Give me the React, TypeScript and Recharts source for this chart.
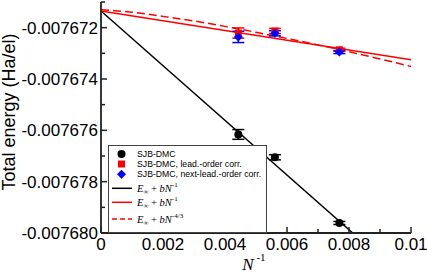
import { ComposedChart, Line, Scatter, XAxis, YAxis, ErrorBar, Legend } from 'recharts';

// N^-1 for the three system sizes
const INV_N = [0.00443, 0.00561, 0.00769];

const E_DMC = [-0.00767616, -0.00767705, -0.00767961];
const ERR_DMC = [0.00000019, 0.0000001, 0.00000006];
const E_LEAD = [-0.00767221, -0.00767213, -0.00767286];
const ERR_LEAD = [0.0000002, 0.0000001, 0.00000006];
const E_NEXT = [-0.00767236, -0.00767222, -0.00767295];
const ERR_NEXT = [0.00000022, 0.0000001, 0.00000006];

// fits
const FIT1_X = [0, 0.00812];
const FIT1_E = [-0.00767135, -0.0076800];
const FIT2_X = [0, 0.01];
const FIT2_E = [-0.00767135, -0.00767325];
const FIT3_X = [0, 0.001, 0.002, 0.003, 0.004, 0.005, 0.006, 0.007, 0.008, 0.009, 0.01];
const FIT3_E = [
  -0.0076713, -0.0076714, -0.00767156, -0.00767174, -0.00767195, -0.00767218,
  -0.00767242, -0.00767267, -0.00767294, -0.00767322, -0.00767351,
];

const X_TICKS = [0, 0.001, 0.002, 0.003, 0.004, 0.005, 0.006, 0.007, 0.008, 0.009, 0.01];
const X_LABELS = ['0', '', '0.002', '', '0.004', '', '0.006', '', '0.008', '', '0.01'];
const Y_TICKS = [
  -0.00768, -0.007679, -0.007678, -0.007677, -0.007676, -0.007675,
  -0.007674, -0.007673, -0.007672, -0.007671,
];
const Y_LABELS = [
  '-0.007680', '', '-0.007678', '', '-0.007676', '', '-0.007674', '', '-0.007672', '',
];

const AXIS = '#222';
const FONT = '"Liberation Sans", Arial, sans-serif';
const SERIF = '"Liberation Serif", "Times New Roman", serif';

const toPoints = (xs: number[], ys: number[], errs?: number[]) =>
  xs.map((x, i) => ({ x, y: ys[i], err: errs ? errs[i] : 0 }));

const findIdx = (ticks: number[], v: number) =>
  ticks.findIndex((t) => Math.abs(t - v) < 1e-10);

function makeTick(side: 'bottom' | 'top' | 'left' | 'right') {
  return (props: any) => {
    const { x, y, payload } = props;
    const isX = side === 'bottom' || side === 'top';
    const idx = findIdx(isX ? X_TICKS : Y_TICKS, payload.value);
    const label = idx >= 0 ? (isX ? X_LABELS[idx] : Y_LABELS[idx]) : '';
    const len = label !== '' ? 6 : 4;
    let line;
    if (side === 'bottom') line = <line x1={x} x2={x} y1={y} y2={y - len} stroke={AXIS} strokeWidth={1.5} />;
    else if (side === 'top') line = <line x1={x} x2={x} y1={y} y2={y + len} stroke={AXIS} strokeWidth={1.5} />;
    else if (side === 'left') line = <line x1={x} x2={x + len} y1={y} y2={y} stroke={AXIS} strokeWidth={1.5} />;
    else line = <line x1={x} x2={x - len} y1={y} y2={y} stroke={AXIS} strokeWidth={1.5} />;
    return (
      <g>
        {line}
        {side === 'bottom' && label !== '' && (
          <text x={x} y={y + 16.5} textAnchor="middle" fontSize={17} fontFamily={FONT} fill="#000">
            {label}
          </text>
        )}
        {side === 'left' && label !== '' && (
          <text x={x - 3} y={y + 6} textAnchor="end" fontSize={17} fontFamily={FONT} fill="#000">
            {label}
          </text>
        )}
      </g>
    );
  };
}

const Circle = (p: any) => <circle cx={p.cx} cy={p.cy} r={4} fill="#000" />;
const Square = (p: any) => <rect x={p.cx - 3.5} y={p.cy - 3.5} width={7} height={7} fill="#ff0000" />;
const Diamond = (p: any) => (
  <path d={`M${p.cx},${p.cy - 4.5}L${p.cx + 4.5},${p.cy}L${p.cx},${p.cy + 4.5}L${p.cx - 4.5},${p.cy}Z`} fill="#0000ff" />
);

function Formula({ y, power }: { y: number; power: string }) {
  return (
    <text x={28} y={y + 3.5} fontSize={10.5} fontFamily={SERIF} fill="#000">
      <tspan fontStyle="italic">E</tspan>
      <tspan fontSize={7} dy={2}>∞</tspan>
      <tspan dy={-2}> + </tspan>
      <tspan fontStyle="italic">bN</tspan>
      <tspan fontSize={7} dy={-5}>{power}</tspan>
    </text>
  );
}

function renderLegend() {
  const text = (y: number, s: string) => (
    <text x={28} y={y + 3} fontSize={8.7} fontFamily={FONT} fill="#000">{s}</text>
  );
  return (
    <div style={{ width: 159, height: 88, border: '1px solid #444', background: '#fff', boxSizing: 'border-box' }}>
      <svg width={157} height={86} style={{ display: 'block' }}>
        <Circle cx={12.5} cy={8} />
        {text(8, 'SJB-DMC')}
        <Square cx={12.5} cy={18} />
        {text(18, 'SJB-DMC, lead.-order corr.')}
        <Diamond cx={12.5} cy={28.3} />
        {text(28.3, 'SJB-DMC, next-lead.-order corr.')}
        <line x1={3} x2={23} y1={42.3} y2={42.3} stroke="#000" strokeWidth={1.5} />
        <Formula y={42.3} power="-1" />
        <line x1={3} x2={23} y1={56.3} y2={56.3} stroke="#ff0000" strokeWidth={1.5} />
        <Formula y={56.3} power="-1" />
        <line x1={3} x2={23} y1={73} y2={73} stroke="#ff0000" strokeWidth={1.5} strokeDasharray="5 3" />
        <Formula y={73} power="-4/3" />
      </svg>
    </div>
  );
}

export default function App() {
  return (
    <div style={{ position: 'absolute', left: 0, top: 0 }}>
      <ComposedChart width={427} height={273} margin={{ top: 2, right: 16, bottom: 0, left: 0 }}>
        <XAxis
          xAxisId={0}
          dataKey="x"
          type="number"
          domain={[0, 0.01]}
          ticks={X_TICKS}
          interval={0}
          height={40}
          tickSize={0}
          tickMargin={0}
          tickLine={false}
          stroke={AXIS}
          strokeWidth={1.8}
          tick={makeTick('bottom')}
          label={{
            content: () => (
              <text x={254} y={270} textAnchor="middle" fontFamily={SERIF} fill="#000">
                <tspan fontStyle="italic" fontSize={17}>N</tspan>
                <tspan fontSize={11} dy={-9}> -1</tspan>
              </text>
            ),
          }}
        />
        <XAxis
          xAxisId="top"
          dataKey="x"
          type="number"
          orientation="top"
          domain={[0, 0.01]}
          ticks={X_TICKS}
          interval={0}
          height={0}
          tickSize={0}
          tickMargin={0}
          tickLine={false}
          stroke={AXIS}
          strokeWidth={1.8}
          tick={makeTick('top')}
        />
        <YAxis
          yAxisId={0}
          type="number"
          domain={[-0.00768, -0.007671]}
          allowDataOverflow
          ticks={Y_TICKS}
          interval={0}
          width={101}
          tickSize={0}
          tickMargin={0}
          tickLine={false}
          stroke={AXIS}
          strokeWidth={1.8}
          tick={makeTick('left')}
          label={{
            content: () => (
              <text
                transform="translate(9,112) rotate(-90)"
                textAnchor="middle"
                dominantBaseline="central"
                fontSize={18}
                fontFamily={FONT}
                fill="#000"
              >
                Total energy (Ha/el)
              </text>
            ),
          }}
        />
        <YAxis
          yAxisId="right"
          orientation="right"
          type="number"
          domain={[-0.00768, -0.007671]}
          allowDataOverflow
          ticks={Y_TICKS}
          interval={0}
          width={0}
          tickSize={0}
          tickMargin={0}
          tickLine={false}
          stroke={AXIS}
          strokeWidth={1.8}
          tick={makeTick('right')}
        />
        <Line data={toPoints(FIT1_X, FIT1_E)} dataKey="y" stroke="#000" strokeWidth={1.5} dot={false} isAnimationActive={false} />
        <Line data={toPoints(FIT2_X, FIT2_E)} dataKey="y" stroke="#ff0000" strokeWidth={1.5} dot={false} isAnimationActive={false} />
        <Line
          data={toPoints(FIT3_X, FIT3_E)}
          dataKey="y"
          type="monotone"
          stroke="#ff0000"
          strokeWidth={1.5}
          strokeDasharray="8 4"
          dot={false}
          isAnimationActive={false}
        />
        <Scatter data={toPoints(INV_N, E_DMC, ERR_DMC)} dataKey="y" shape={Circle} isAnimationActive={false}>
          <ErrorBar dataKey="err" direction="y" width={6} stroke="#000" strokeWidth={1.5} />
        </Scatter>
        <Scatter data={toPoints(INV_N, E_LEAD, ERR_LEAD)} dataKey="y" shape={Square} isAnimationActive={false}>
          <ErrorBar dataKey="err" direction="y" width={6} stroke="#ff0000" strokeWidth={1.5} />
        </Scatter>
        <Scatter data={toPoints(INV_N, E_NEXT, ERR_NEXT)} dataKey="y" shape={Diamond} isAnimationActive={false}>
          <ErrorBar dataKey="err" direction="y" width={6} stroke="#0000ff" strokeWidth={1.5} />
        </Scatter>
        <Legend
          layout="horizontal"
          verticalAlign="middle"
          align="center"
          content={renderLegend}
          wrapperStyle={{ left: 108, top: 145, width: 159, height: 88 }}
        />
      </ComposedChart>
    </div>
  );
}
